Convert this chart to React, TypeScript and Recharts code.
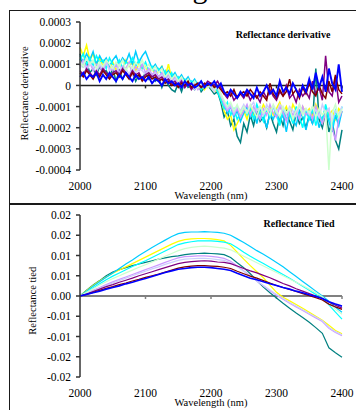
import React from 'react';
import { LineChart, Line, XAxis, YAxis, ReferenceLine, Label } from 'recharts';

const FONT = 'Liberation Serif';

// ---------- Top panel: reflectance derivative (values in units of 1e-5) ----------
const derivWavelengths = [
  2000, 2005, 2010, 2015, 2020, 2025, 2030, 2035, 2040, 2045,
  2050, 2055, 2060, 2065, 2070, 2075, 2080, 2085, 2090, 2095,
  2100, 2105, 2110, 2115, 2120, 2125, 2130, 2135, 2140, 2145,
  2150, 2155, 2160, 2165, 2170, 2175, 2180, 2185, 2190, 2195,
  2200, 2205, 2210, 2215, 2220, 2225, 2230, 2235, 2240, 2245,
  2250, 2255, 2260, 2265, 2270, 2275, 2280, 2285, 2290, 2295,
  2300, 2305, 2310, 2315, 2320, 2325, 2330, 2335, 2340, 2345,
  2350, 2355, 2360, 2365, 2370, 2375, 2380, 2385, 2390, 2395,
  2400,
];
const derivYellow = [
  18, 14, 19, 12, 15, 10, 13, 9, 12, 8,
  11, 7, 10, 8, 12, 9, 11, 7, 10, 8,
  9, 6, 8, 5, 7, 9, 4, 10, 3, 5,
  2, 4, 1, 3, 0, 2, -1, 1, -2, 0,
  -1, -3, -2, -6, -12, -16, -14, -21, -18, -15,
  -12, -16, -10, -14, -11, -13, -9, -12, -10, -14,
  -11, -8, -13, -10, -15, -9, -12, -14, -10, -13,
  -11, -15, -9, -13, -18, -10, -14, -12, -16, -11,
  -13,
];
const derivTeal = [
  15, 9, 11, 6, 8, 5, 9, 6, 7, 4,
  8, 2, 7, 3, 6, 4, 7, 2, 5, 3,
  6, 3, 5, 2, 4, -1, 3, 0, -2, -3,
  1, -3, 2, -1, 0, -2, 1, -3, -1, 0,
  -2, -4, -3, -8, -15, -12, -19, -16, -24, -27,
  -18, -22, -14, -19, -12, -17, -15, -20, -13, -18,
  -22, -14, -19, -12, -17, -21, -13, -18, -15, -20,
  -14, -18, 8, -16, -20, -12, -22, -17, -26, -30,
  -21,
];
const derivSky = [
  14, 11, 15, 12, 16, 10, 14, 11, 13, 9,
  12, 14, 10, 13, 11, 15, 10, 16, 11, 14,
  16, 12, 8, 10, 7, 9, 5, 7, 4, 6,
  3, 5, 2, 4, 1, 3, 0, 2, -1, 1,
  0, -2, -1, -5, -9, -13, -10, -15, -12, -17,
  -13, -10, -15, -12, -18, -11, -14, -20, -13, -16,
  -12, -17, -14, -22, -13, -16, -19, -12, -15, -21,
  -14, -18, -12, -20, -15, -11, -17, -22, -14, -19,
  -12,
];
const derivCyan = [
  12, 15, 10, 13, 9, 14, 11, 12, 8, 13,
  10, 9, 12, 8, 11, 10, 13, 9, 12, 8,
  11, 7, 9, 6, 8, 5, 7, 3, 6, 2,
  4, 1, 3, 0, 2, -1, 1, -2, 0, 1,
  -1, 0, -3, -7, -11, -8, -14, -11, -16, -13,
  -10, -14, -11, -16, -9, -13, -17, -11, -15, -10,
  -14, -19, -11, -16, -13, -18, -10, -15, -20, -12,
  -16, -11, -19, -13, -17, -9, -15, -20, -12, -16,
  -10,
];
const derivLavender = [
  9, 12, 8, 11, 7, 10, 9, 6, 11, 8,
  7, 10, 6, 9, 8, 11, 5, 9, 7, 10,
  6, 8, 5, 7, 4, 6, 3, 5, 2, 4,
  1, 3, 0, 2, -1, 1, -2, 0, 1, -1,
  0, -2, -1, -4, -9, -12, -10, -14, -11, -15,
  -12, -9, -14, -10, -13, -16, -11, -14, -9, -13,
  -15, -10, -13, -17, -11, -14, -12, -16, -10, -14,
  -12, -16, -10, -14, -18, -13, -11, -20, -26, -16,
  -12,
];
const derivLightBlue = [
  8, 11, 7, 10, 9, 6, 10, 8, 11, 7,
  9, 6, 10, 7, 8, 5, 9, 6, 8, 7,
  5, 7, 4, 6, 3, 5, 2, 4, 1, 3,
  0, 2, -1, 1, 0, -2, 1, -1, 0, 2,
  -1, -3, 0, -5, -8, -11, -9, -13, -10, -12,
  -9, -13, -10, -8, -12, -10, -14, -9, -12, -10,
  -13, -9, -11, -14, -10, -12, -15, -9, -13, -11,
  -14, -10, -12, -15, -9, -13, -11, -17, -12, -14,
  -10,
];
const derivPaleGreen = [
  11, 9, 13, 10, 12, 8, 11, 9, 12, 10,
  8, 11, 9, 12, 7, 10, 8, 11, 9, 12,
  8, 10, 7, 9, 6, 8, 4, 6, 3, 5,
  2, 4, 1, 3, 0, 2, -1, 1, 0, -1,
  1, -2, 0, -4, -7, -10, -8, -12, -9, -13,
  -10, -13, -9, -12, -15, -10, -13, -11, -14, -9,
  -12, -15, -10, -13, -11, -16, -12, -9, -14, -11,
  -13, -10, -15, -11, -14, -12, -40, -13, -9, -15,
  -11,
];
const derivPurple = [
  7, 5, 8, 6, 4, 7, 5, 8, 6, 4,
  6, 7, 5, 8, 6, 4, 7, 5, 6, 3,
  5, 6, 4, 5, 3, 4, 2, 3, 1, 2,
  0, 2, -1, 1, -2, 0, 1, -1, 0, 2,
  1, 0, 2, -1, -4, -6, -3, -7, -5, -4,
  -6, -3, -7, -4, -5, -8, -3, -6, -2, -5,
  -7, -3, -5, 0, -6, -4, -8, -2, -5, -3,
  -6, 2, -4, -1, -7, 14, -3, -5, 4, -8,
  -5,
];
const derivMaroon = [
  6, 4, 7, 5, 3, 6, 4, 7, 5, 3,
  5, 6, 4, 7, 5, 3, 6, 4, 5, 2,
  4, 5, 3, 4, 2, 3, 1, 2, 0, 1,
  -1, 1, 0, 2, -1, 0, 1, -1, 1, 0,
  1, -1, 0, -2, -4, -3, -5, -2, -6, -4,
  -3, -5, -2, -4, -6, -3, -5, -7, 1, -4,
  -6, -2, -5, -3, 3, -4, -2, -6, -1, -4,
  1, -3, -5, 0, -4, -6, 2, -3, 5, -2,
  -4,
];
const derivBlue = [
  4, 6, 3, 5, 4, 6, 2, 5, 3, 6,
  4, 2, 5, 3, 6, 4, 2, 5, 3, 4,
  2, 4, 1, 3, 2, 0, 3, 1, 2, 0,
  1, -1, 2, 0, 1, -1, 0, 2, -1, 1,
  0, 2, -1, 1, -3, -5, -2, -4, -6, -3,
  -5, -2, -4, -6, -1, -5, -3, 0, -4, -2,
  -5, 2, -3, -1, -4, 1, -2, -5, 0, -3,
  3, -2, 6, -1, 4, -3, 8, 1, -2, 10,
  -3,
];

// ---------- Bottom panel: reflectance tied (values in units of 1e-4) ----------
const tiedWavelengths = [
  2000, 2010, 2020, 2030, 2040, 2050, 2060, 2070, 2080, 2090,
  2100, 2110, 2120, 2130, 2140, 2150, 2160, 2170, 2180, 2190,
  2200, 2210, 2220, 2230, 2240, 2250, 2260, 2270, 2280, 2290,
  2300, 2310, 2320, 2330, 2340, 2350, 2360, 2370, 2380, 2390,
  2400,
];
const tiedSky = [
  0, 12, 24, 35, 46, 57, 68, 79, 89, 100,
  110, 120, 129, 138, 147, 154, 157, 158, 158, 159,
  158, 157, 155, 150, 141, 132, 122, 112, 103, 93,
  83, 72, 60, 48, 36, 24, 12, 0, -13, -28,
  -40,
];
const tiedYellow = [
  0, 13, 26, 37, 47, 56, 64, 72, 80, 88,
  96, 104, 112, 120, 128, 135, 139, 141, 142, 142,
  141, 139, 136, 125, 108, 91, 75, 60, 45, 27,
  9, -3, -12, -21, -30, -40, -50, -60, -72, -85,
  -93,
];
const tiedCyan = [
  0, 10, 20, 30, 40, 49, 57, 65, 73, 80,
  87, 95, 103, 111, 119, 127, 131, 134, 136, 136,
  136, 135, 133, 129, 119, 108, 98, 89, 80, 71,
  62, 53, 44, 34, 24, 14, 4, -6, -22, -40,
  -57,
];
const tiedPaleGreen = [
  0, 9, 18, 27, 35, 43, 50, 57, 64, 71,
  77, 84, 91, 98, 105, 112, 117, 120, 122, 123,
  122, 120, 118, 114, 106, 98, 90, 82, 74, 66,
  58, 50, 42, 34, 26, 17, 8, -2, -20, -33,
  -45,
];
const tiedTeal = [
  0, 14, 27, 38, 50, 59, 65, 70, 75, 79,
  83, 87, 91, 94, 97, 99, 102, 104, 105, 106,
  105, 104, 102, 95, 82, 70, 55, 38, 22, 8,
  -5, -18, -30, -42, -53, -65, -78, -92, -128, -140,
  -151,
];
const tiedLavender = [
  0, 7, 14, 21, 28, 35, 41, 47, 53, 59,
  65, 71, 77, 83, 89, 94, 97, 98, 99, 99,
  98, 96, 93, 86, 74, 62, 50, 37, 25, 13,
  2, -8, -18, -27, -36, -45, -54, -63, -80, -90,
  -98,
];
const tiedLightBlue = [
  0, 7, 13, 19, 26, 32, 38, 44, 50, 56,
  61, 67, 72, 78, 83, 88, 91, 92, 93, 93,
  92, 90, 88, 82, 72, 61, 49, 37, 26, 15,
  4, -6, -16, -25, -34, -43, -52, -61, -77, -88,
  -96,
];
const tiedPurple = [
  0, 5, 11, 17, 23, 28, 34, 39, 44, 50,
  55, 60, 65, 70, 75, 80, 83, 85, 86, 87,
  86, 84, 83, 80, 74, 68, 62, 57, 51, 45,
  38, 31, 25, 18, 12, 6, 0, -6, -15, -23,
  -30,
];
const tiedMaroon = [
  0, 4, 9, 14, 19, 23, 28, 32, 37, 41,
  46, 50, 54, 59, 64, 69, 72, 74, 75, 75,
  74, 73, 71, 68, 61, 55, 49, 44, 38, 32,
  26, 21, 16, 11, 6, 1, -4, -10, -20, -27,
  -33,
];
const tiedBlue = [
  0, 4, 8, 12, 17, 21, 25, 30, 34, 39,
  43, 48, 53, 58, 62, 66, 68, 70, 71, 71,
  70, 68, 66, 63, 56, 50, 44, 40, 35, 30,
  26, 21, 17, 12, 8, 3, -1, -6, -14, -20,
  -25,
];

// ---------- Axis ticks ----------
const xTicks = [2000, 2100, 2200, 2300, 2400];
const xTickLabels = ['2000', '2100', '2200', '2300', '2400'];
const derivTicks = [-0.0004, -0.0003, -0.0002, -0.0001, 0, 0.0001, 0.0002, 0.0003];
const derivTickLabels = ['-0.0004', '-0.0003', '-0.0002', '-0.0001', '0', '0.0001', '0.0002', '0.0003'];
const tiedTicks = [-0.02, -0.015, -0.01, -0.005, 0, 0.005, 0.01, 0.015, 0.02];
const tiedTickLabels = ['-0.02', '-0.02', '-0.01', '-0.01', '0.00', '0.01', '0.01', '0.02', '0.02'];

// series: key, colour (draw order)
const seriesStyle = [
  { key: 'teal', color: '#008080' },
  { key: 'yellow', color: '#FFFF00' },
  { key: 'sky', color: '#00CCFF' },
  { key: 'cyan', color: '#00FFFF' },
  { key: 'lavender', color: '#CC99FF' },
  { key: 'lightblue', color: '#CCCCFF' },
  { key: 'palegreen', color: '#CCFFCC' },
  { key: 'purple', color: '#800080' },
  { key: 'maroon', color: '#800000' },
  { key: 'blue', color: '#0000FF' },
];

const derivSeries: Record<string, number[]> = {
  teal: derivTeal, yellow: derivYellow, sky: derivSky, cyan: derivCyan,
  lavender: derivLavender, lightblue: derivLightBlue, palegreen: derivPaleGreen,
  purple: derivPurple, maroon: derivMaroon, blue: derivBlue,
};
const tiedSeries: Record<string, number[]> = {
  teal: tiedTeal, yellow: tiedYellow, sky: tiedSky, cyan: tiedCyan,
  lavender: tiedLavender, lightblue: tiedLightBlue, palegreen: tiedPaleGreen,
  purple: tiedPurple, maroon: tiedMaroon, blue: tiedBlue,
};

const derivData = derivWavelengths.map((wl, i) => {
  const row: Record<string, number> = { wl };
  for (const s of seriesStyle) row[s.key] = derivSeries[s.key][i] * 1e-5;
  return row;
});
const tiedData = tiedWavelengths.map((wl, i) => {
  const row: Record<string, number> = { wl };
  for (const s of seriesStyle) row[s.key] = tiedSeries[s.key][i] * 1e-4;
  return row;
});

const fmt = (ticks: number[], labels: string[]) => (v: number) => {
  const i = ticks.findIndex((t) => Math.abs(t - v) < 1e-12);
  return i >= 0 ? labels[i] : String(v);
};

function makeYTitle(text: string, dx: number, dy: number) {
  return (props: any) => {
    const vb = props.viewBox || {};
    const cx = (vb.x ?? 0) + dx;
    const cy = (vb.y ?? 0) + (vb.height ?? 0) / 2 + dy;
    return (
      <text
        x={cx}
        y={cy}
        transform={`rotate(-90 ${cx} ${cy})`}
        textAnchor="middle"
        dominantBaseline="central"
        fontSize={10.5}
        fontFamily={FONT}
        fill="#000"
      >
        {text}
      </text>
    );
  };
}

const tickStyle = { fill: '#000', fontSize: 11.5, fontFamily: FONT };

function Panel(props: {
  data: Record<string, number>[];
  domain: [number, number];
  yTicks: number[];
  yLabels: string[];
  yTitle: string;
  yTitleDx: number;
  yTitleDy: number;
  marginTop: number;
  xAxisHeight: number;
  xTitleOffset: number;
  zeroColor: string;
  zeroWidth: number;
  tickLen: number;
  lineWidth: number;
}) {
  return (
    <LineChart
      width={356}
      height={205}
      data={props.data}
      margin={{ top: props.marginTop, right: 14, bottom: 0, left: 0 }}
      style={{ fontFamily: FONT }}
    >
      <XAxis
        dataKey="wl"
        type="number"
        domain={[2000, 2400]}
        ticks={xTicks}
        interval={0}
        tickFormatter={fmt(xTicks, xTickLabels)}
        axisLine={false}
        tickLine={false}
        tickSize={6}
        tickMargin={6}
        height={props.xAxisHeight}
        tick={tickStyle}
      >
        <Label
          value="Wavelength (nm)"
          position="insideBottom"
          offset={props.xTitleOffset}
          fontFamily={FONT}
          fontSize={10.5}
          fill="#000"
          style={{ fontSize: 10.5, fontFamily: FONT, fill: '#000' }}
        />
      </XAxis>
      <YAxis
        type="number"
        domain={props.domain}
        ticks={props.yTicks}
        interval={0}
        tickFormatter={fmt(props.yTicks, props.yLabels)}
        width={80}
        tickSize={4}
        tickMargin={5}
        axisLine={{ stroke: '#333', strokeWidth: 1.5 }}
        tickLine={{ stroke: '#333', strokeWidth: 1.5 }}
        tick={tickStyle}
        allowDataOverflow
      >
        <Label content={makeYTitle(props.yTitle, props.yTitleDx, props.yTitleDy)} />
      </YAxis>
      <ReferenceLine y={0} stroke={props.zeroColor} strokeWidth={props.zeroWidth} />
      {xTicks.slice(1).map((t) => (
        <ReferenceLine
          key={t}
          segment={[{ x: t, y: 0 }, { x: t, y: -props.tickLen }]}
          stroke={props.zeroColor}
          strokeWidth={1.5}
        />
      ))}
      {seriesStyle.map((s) => (
        <Line
          key={s.key}
          dataKey={s.key}
          type="linear"
          stroke={s.color}
          strokeWidth={s.key === 'blue' ? props.lineWidth + 0.4 : props.lineWidth}
          dot={false}
          activeDot={false}
          isAnimationActive={false}
        />
      ))}
    </LineChart>
  );
}

export default function App() {
  return (
    <div
      style={{
        position: 'absolute',
        left: 0,
        top: 0,
        width: 356,
        height: 410,
        overflow: 'hidden',
        background: '#fff',
        fontFamily: FONT,
      }}
    >
      <svg width={356} height={12} style={{ position: 'absolute', left: 0, top: 0 }}>
        <text x={200} y={-2.5} fontSize={30} fontFamily={FONT} textAnchor="middle" fill="#000">
          g
        </text>
      </svg>
      <div style={{ position: 'absolute', left: 0, top: 0 }}>
        <Panel
          data={derivData}
          domain={[-0.0004, 0.0003]}
          yTicks={derivTicks}
          yLabels={derivTickLabels}
          yTitle="Reflectance derivative"
          yTitleDx={24}
          yTitleDy={-2.5}
          marginTop={22}
          xAxisHeight={35}
          xTitleOffset={6.5}
          zeroColor="#222"
          zeroWidth={1.5}
          tickLen={0.000014}
          lineWidth={1.5}
        />
      </div>
      <div style={{ position: 'absolute', left: 0, top: 205 }}>
        <Panel
          data={tiedData}
          domain={[-0.02, 0.02]}
          yTicks={tiedTicks}
          yLabels={tiedTickLabels}
          yTitle="Reflectance tied"
          yTitleDx={33}
          yTitleDy={4.8}
          marginTop={10}
          xAxisHeight={33}
          xTitleOffset={4.3}
          zeroColor="#808080"
          zeroWidth={2}
          tickLen={0.00075}
          lineWidth={1.2}
        />
      </div>
      <div
        style={{
          position: 'absolute', left: 163, top: 29, width: 240, textAlign: 'center',
          fontSize: 10, fontWeight: 'bold', lineHeight: '12px', color: '#000', fontFamily: FONT,
        }}
      >
        Reflectance derivative
      </div>
      <div
        style={{
          position: 'absolute', left: 179, top: 218, width: 240, textAlign: 'center',
          fontSize: 10, fontWeight: 'bold', lineHeight: '12px', color: '#000', fontFamily: FONT,
        }}
      >
        Reflectance Tied
      </div>
      <div style={{ position: 'absolute', left: 8.5, top: 9.5, width: 348, height: 1.8, background: '#1a1a1a' }} />
      <div style={{ position: 'absolute', left: 8.5, top: 9.5, width: 1.6, height: 401, background: '#1a1a1a' }} />
      <div style={{ position: 'absolute', left: 8.5, top: 203, width: 348, height: 1.6, background: '#1a1a1a' }} />
    </div>
  );
}
